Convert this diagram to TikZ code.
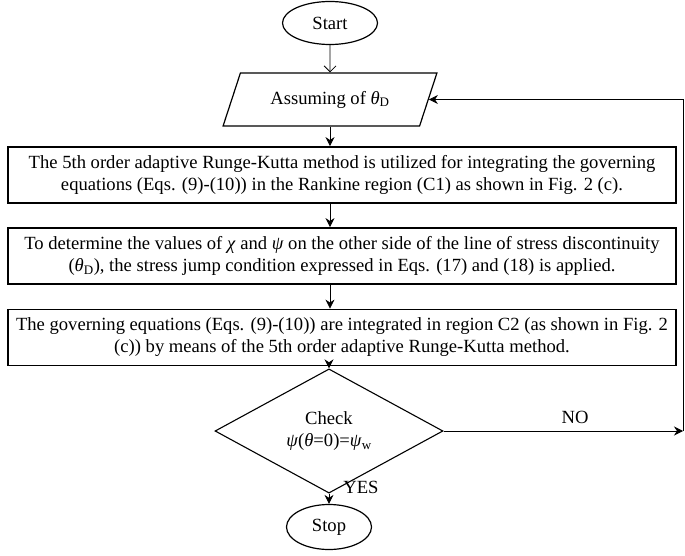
\documentclass[tikz,border=0pt]{standalone}
\usepackage{fontspec}
\setmainfont{Liberation Serif}
\usetikzlibrary{shapes.geometric,arrows.meta}
\newcommand{\gk}[1]{\textit{#1}}
\begin{document}
\begin{tikzpicture}[x=1pt,y=-1pt,
  every node/.style={font=\fontsize{18.6}{22}\selectfont},
  procbox/.style={draw,line width=1.8pt,minimum width=668pt,minimum height=56pt,align=center,inner sep=0pt},
  term/.style={draw,ellipse,line width=1.2pt,minimum width=95pt,minimum height=43pt,inner sep=0pt},
  io/.style={draw,trapezium,trapezium left angle=56,trapezium right angle=124,trapezium stretches=true,minimum width=214pt,minimum height=53pt,line width=1.2pt,inner sep=0pt},
  decision/.style={draw,diamond,minimum width=228pt,minimum height=76pt,line width=1.1pt,inner sep=0pt,align=center},
  conn/.style={line width=0.8pt,-{Stealth[length=9pt,width=9pt]}},
  openconn/.style={line width=0.8pt,-{Straight Barb[length=6pt,width=12pt]}},
  lbl/.style={inner sep=0pt}
]
\useasboundingbox (0,0) rectangle (685,556);
\node[term] (start) at (330,23) {Start};
\node[io] (assume) at (330,99.5) {Assuming of \gk{θ}\textsubscript{D}};
\node[procbox] (b1) at (342,175) {The 5th order adaptive Runge-Kutta method is utilized for integrating the governing\\equations (Eqs. (9)-(10)) in the Rankine region (C1) as shown in Fig. 2 (c).};
\node[procbox] (b2) at (342,256) {To determine the values of \gk{χ} and \gk{ψ} on the other side of the line of stress discontinuity\\(\gk{θ}\textsubscript{D}), the stress jump condition expressed in Eqs. (17) and (18) is applied.};
\node[procbox] (b3) at (342,337.5) {The governing equations (Eqs. (9)-(10)) are integrated in region C2 (as shown in Fig. 2\\(c)) by means of the 5th order adaptive Runge-Kutta method.};
\node[decision] (check) at (329,431) {Check\\\gk{ψ}(\gk{θ}=0)=\gk{ψ}\textsubscript{w}};
\node[term,minimum width=85pt,minimum height=45pt] (stop) at (329,527) {Stop};
\coordinate (corner) at (683,431);
\node[lbl] (no) at (575,417) {NO};
\node[lbl] (yes) at (361,487) {YES};
\draw[openconn] (start) -- (assume.north);
\draw[conn] (assume.south) -- (assume.south |- b1.north);
\draw[conn] (assume.south |- b1.south) -- (assume.south |- b2.north);
\draw[conn] (assume.south |- b2.south) -- (assume.south |- b3.north);
\draw[conn] (check.north |- b3.south) -- (check.north);
\draw[conn] (check.south) -- (stop.north);
\draw[conn] (check.east) -- (corner);
\draw[conn] (corner) |- (assume.east);
\end{tikzpicture}
\end{document}
